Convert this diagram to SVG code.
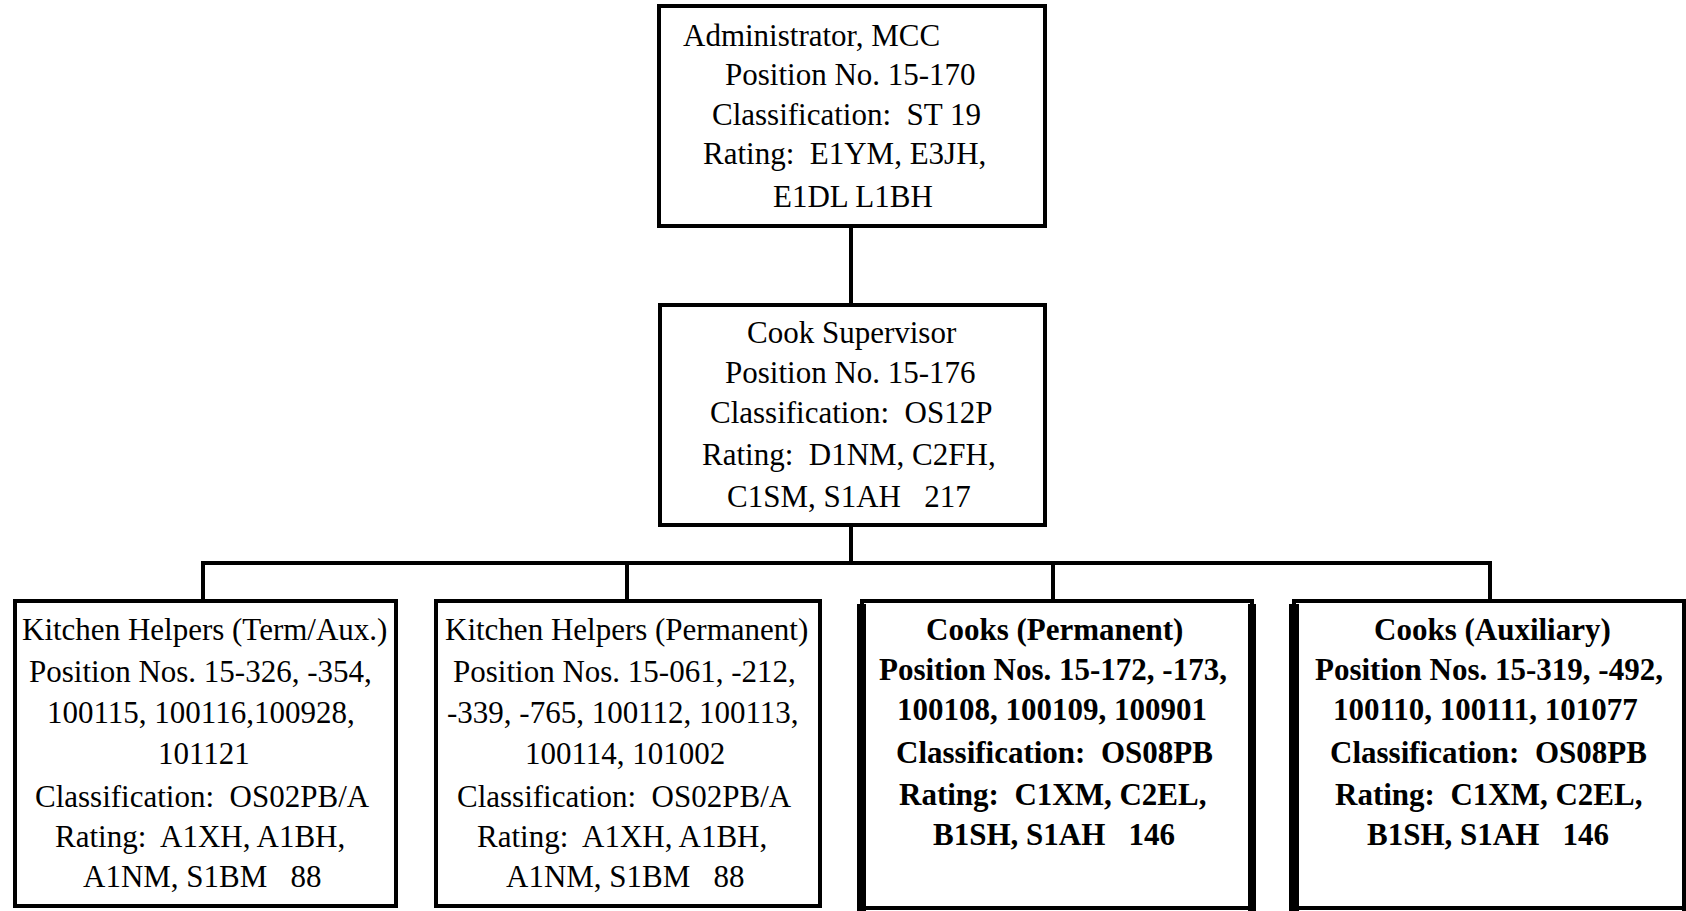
<svg xmlns="http://www.w3.org/2000/svg" width="1686" height="911" viewBox="0 0 1686 911">
<style>
.box{fill:#fff;stroke:#000;stroke-width:4}
.bar{fill:#000}
.t{font-family:"Liberation Serif","Times New Roman",serif;font-size:31px;fill:#000;white-space:pre}
.b{font-weight:bold}
.c{stroke:#000;stroke-width:4;fill:none}
</style>
<rect width="1686" height="911" fill="#fff"/>
<g id="connectors">
<line class="c" x1="851" y1="228" x2="851" y2="303"/>
<line class="c" x1="851" y1="527" x2="851" y2="563"/>
<line class="c" x1="201" y1="563" x2="1492" y2="563"/>
<line class="c" x1="203" y1="563" x2="203" y2="599"/>
<line class="c" x1="627" y1="563" x2="627" y2="599"/>
<line class="c" x1="1053" y1="563" x2="1053" y2="599"/>
<line class="c" x1="1490" y1="563" x2="1490" y2="599"/>
</g>
<g id="administrator">
<rect class="box" x="659" y="6" width="386" height="220"/>
<text class="t" x="683" y="46" xml:space="preserve">Administrator, MCC</text>
<text class="t" x="725" y="85" xml:space="preserve">Position No. 15-170</text>
<text class="t" x="712" y="125" xml:space="preserve">Classification:  ST 19</text>
<text class="t" x="703" y="164" xml:space="preserve">Rating:  E1YM, E3JH,</text>
<text class="t" x="773" y="207" xml:space="preserve">E1DL L1BH</text>
</g>
<g id="cook-supervisor">
<rect class="box" x="660" y="305" width="385" height="220"/>
<text class="t" x="747" y="343" xml:space="preserve">Cook Supervisor</text>
<text class="t" x="725" y="383" xml:space="preserve">Position No. 15-176</text>
<text class="t" x="710" y="423" xml:space="preserve">Classification:  OS12P</text>
<text class="t" x="702" y="465" xml:space="preserve">Rating:  D1NM, C2FH,</text>
<text class="t" x="727" y="507" xml:space="preserve">C1SM, S1AH   217</text>
</g>
<g id="kitchen-helpers-term">
<rect class="box" x="15" y="601" width="381" height="305"/>
<text class="t" x="22" y="640" xml:space="preserve">Kitchen Helpers (Term/Aux.)</text>
<text class="t" x="29" y="682" xml:space="preserve">Position Nos. 15-326, -354,</text>
<text class="t" x="47" y="723" xml:space="preserve">100115, 100116,100928,</text>
<text class="t" x="158" y="764" xml:space="preserve">101121</text>
<text class="t" x="35" y="807" xml:space="preserve">Classification:  OS02PB/A</text>
<text class="t" x="55" y="847" xml:space="preserve">Rating:  A1XH, A1BH,</text>
<text class="t" x="83" y="887" xml:space="preserve">A1NM, S1BM   88</text>
</g>
<g id="kitchen-helpers-perm">
<rect class="box" x="436" y="601" width="384" height="305"/>
<text class="t" x="445" y="640" xml:space="preserve">Kitchen Helpers (Permanent)</text>
<text class="t" x="453" y="682" xml:space="preserve">Position Nos. 15-061, -212,</text>
<text class="t" x="447" y="723" xml:space="preserve">-339, -765, 100112, 100113,</text>
<text class="t" x="525" y="764" xml:space="preserve">100114, 101002</text>
<text class="t" x="457" y="807" xml:space="preserve">Classification:  OS02PB/A</text>
<text class="t" x="477" y="847" xml:space="preserve">Rating:  A1XH, A1BH,</text>
<text class="t" x="506" y="887" xml:space="preserve">A1NM, S1BM   88</text>
</g>
<g id="cooks-perm">
<rect class="box" x="862" y="601" width="390" height="307"/>
<rect class="bar" x="857" y="604" width="9" height="307"/>
<rect class="bar" x="1248" y="604" width="8" height="307"/>
<text class="t b" x="926" y="640" xml:space="preserve">Cooks (Permanent)</text>
<text class="t b" x="879" y="680" xml:space="preserve">Position Nos. 15-172, -173,</text>
<text class="t b" x="897" y="720" xml:space="preserve">100108, 100109, 100901</text>
<text class="t b" x="896" y="763" xml:space="preserve">Classification:  OS08PB</text>
<text class="t b" x="899" y="805" xml:space="preserve">Rating:  C1XM, C2EL,</text>
<text class="t b" x="933" y="845" xml:space="preserve">B1SH, S1AH   146</text>
</g>
<g id="cooks-aux">
<rect class="box" x="1294" y="601" width="390" height="307"/>
<rect class="bar" x="1289" y="604" width="10" height="307"/>
<rect class="bar" x="1682" y="604" width="4" height="307"/>
<text class="t b" x="1374" y="640" xml:space="preserve">Cooks (Auxiliary)</text>
<text class="t b" x="1315" y="680" xml:space="preserve">Position Nos. 15-319, -492,</text>
<text class="t b" x="1333" y="720" xml:space="preserve">100110, 100111, 101077</text>
<text class="t b" x="1330" y="763" xml:space="preserve">Classification:  OS08PB</text>
<text class="t b" x="1335" y="805" xml:space="preserve">Rating:  C1XM, C2EL,</text>
<text class="t b" x="1367" y="845" xml:space="preserve">B1SH, S1AH   146</text>
</g>
</svg>
